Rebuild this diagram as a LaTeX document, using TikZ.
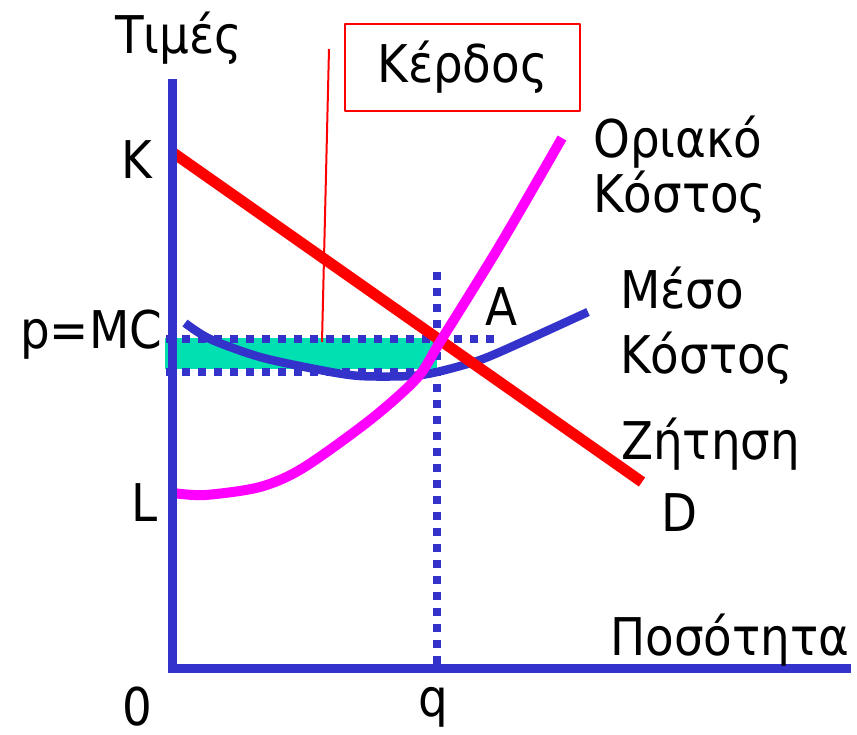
\documentclass[tikz,border=0pt]{standalone}
\usepackage{fontspec}
\setmainfont{DejaVu Sans Condensed}
\usetikzlibrary{arrows.meta}
\definecolor{axisblue}{RGB}{51,51,204}
\definecolor{profitgreen}{RGB}{0,224,176}
\definecolor{mcpink}{RGB}{255,0,255}
\definecolor{dred}{RGB}{255,0,0}
\tikzset{
  every picture/.style={line join=round, >=Stealth},
  axis/.style={axisblue, line width=9pt},
  dot/.style={fill=axisblue},
  curve/.style={line width=#1},
  lbl/.style={anchor=base west, inner sep=0pt, font=\fontsize{52}{60}\selectfont},
}

\begin{document}
\begin{tikzpicture}[x=1pt,y=-1pt]
\useasboundingbox (0,0) rectangle (857,734);
% profit area
\fill[profitgreen] (165,338) rectangle (437,369);
% dotted guides
\foreach \x in {0,...,20}{\fill[dot] (166+16*\x,335) rectangle ++(8,8);}
\foreach \x in {0,...,16}{\fill[dot] (166+16*\x,368) rectangle ++(8,8);}
\foreach \y in {0,...,24}{\fill[dot] (433,272+16*\y) rectangle ++(8,8);}
% average cost
\draw[axisblue, curve=8.5pt] plot[smooth] coordinates {(185,323) (210,339) (260,357) (320,370) (360,376) (410,376) (437,372) (480,360) (520,343) (588,312)};
% demand
\coordinate (K) at (172,152);
\coordinate (D) at (642,482);
\draw[dred, curve=11pt] (K) -- (D);
% marginal cost
\draw[mcpink, curve=10pt] plot[smooth] coordinates {(173,493) (205,495) (260,487) (303,468) (370,420) (417,378) (440,342) (500,245) (562,138)};
% axes
\coordinate (ytop) at (172,79);
\coordinate (xend) at (851,668);
\draw[axis] (ytop) -- (172,672);
\draw[axis] (168,668) -- (xend);
% profit label
\node[draw=dred, line width=2pt, minimum width=235pt, minimum height=87pt, inner sep=0pt, font=\fontsize{52}{60}\selectfont] (profit) at (462.5,67.5) {Κέρδος};
\coordinate (ptr) at (329,49);
\coordinate (ptrend) at (322,342);
\draw[dred, line width=2pt] (ptr) -- (ptrend);
\node[lbl] (prices) at (115,53) {Τιμές};
\node[lbl] (klbl) at (121,178) {K};
\node[lbl] (pmc) at (20,348) {p=MC};
\node[lbl] (llbl) at (131,521) {L};
\node[lbl, text depth=0pt] (zero) at (122,725) {0};
\node[lbl, anchor=base] (qlbl) at (433,716) {q};
\node[lbl] (qty) at (610,655) {Ποσότητα};
\node[lbl] (mc1) at (593,157) {Οριακό};
\node[lbl] (mc2) at (593,212) {Κόστος};
\node[lbl] (ac1) at (620,308) {Μέσο};
\node[lbl] (ac2) at (620,373) {Κόστος};
\node[lbl] (alb) at (485,325) {A};
\node[lbl] (dem) at (621,459) {Ζήτηση};
\node[lbl] (dlbl) at (661,531) {D};
\end{tikzpicture}
\end{document}
